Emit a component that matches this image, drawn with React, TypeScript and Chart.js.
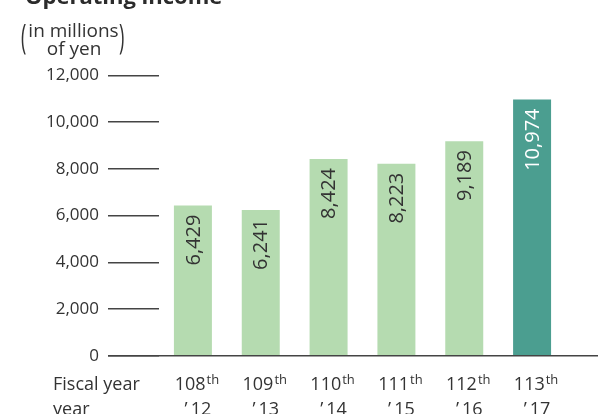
import React, { useEffect, useRef } from "react";
import { Chart, registerables } from "chart.js";

Chart.register(...registerables);

const titleText = "Operating income";
const unitLines = ["in millions", "of yen"];
const axisCaption = ["Fiscal year", "year"];
const fiscalNumbers = ["108", "109", "110", "111", "112", "113"];
const ordinalSuffixes = ["th", "th", "th", "th", "th", "th"];
const calendarYears = ["\u2019\u200912", "\u2019\u200913", "\u2019\u200914", "\u2019\u200915", "\u2019\u200916", "\u2019\u200917"];
const operatingIncome = [6429, 6241, 8424, 8223, 9189, 10974];
const barColors = ["#b5dbb0", "#b5dbb0", "#b5dbb0", "#b5dbb0", "#b5dbb0", "#4b9e90"];
const valueLabelColors = ["#333333", "#333333", "#333333", "#333333", "#333333", "#ffffff"];
const yMin = 0;
const yMax = 12000;
const yStep = 2000;

const FONT = "'Open Sans', 'Noto Sans', sans-serif";
const TEXT = "#333333";
const LINE = "#444444";
const TICK_LEN = 51;

const fmt = (v: number) => v.toLocaleString("en-US");

const overlayPlugin = {
  id: "overlay",
  afterDraw(chart: any) {
    const ctx: CanvasRenderingContext2D = chart.ctx;
    const area = chart.chartArea;
    const xs = chart.scales.x;
    const ys = chart.scales.y;
    ctx.save();

    // title (cut off at top)
    ctx.fillStyle = "#2b2b2b";
    ctx.font = `bold 22px ${FONT}`;
    ctx.textAlign = "left";
    ctx.textBaseline = "alphabetic";
    ctx.fillText(titleText, 25, 4);

    // unit label
    ctx.fillStyle = TEXT;
    ctx.font = `19px ${FONT}`;
    ctx.textAlign = "center";
    ctx.fillText(unitLines[0], 73.5, 37);
    ctx.fillText(unitLines[1], 74, 55);
    ctx.font = `20px ${FONT}`;
    ctx.textAlign = "left";
    ctx.save();
    ctx.translate(21, 49);
    ctx.scale(0.9, 1.7);
    ctx.fillText("(", 0, 0);
    ctx.restore();
    ctx.save();
    ctx.translate(119, 49);
    ctx.scale(0.9, 1.7);
    ctx.fillText(")", 0, 0);
    ctx.restore();

    // zero baseline
    const y0 = ys.getPixelForValue(0);
    ctx.strokeStyle = LINE;
    ctx.lineWidth = 1.5;
    ctx.beginPath();
    ctx.moveTo(area.left - TICK_LEN, y0);
    ctx.lineTo(chart.width, y0);
    ctx.stroke();

    // value labels inside bars
    const meta = chart.getDatasetMeta(0);
    meta.data.forEach((bar: any, i: number) => {
      ctx.save();
      ctx.translate(bar.x, bar.y + 9);
      ctx.rotate(-Math.PI / 2);
      ctx.font = `20px ${FONT}`;
      ctx.fillStyle = valueLabelColors[i];
      ctx.textAlign = "right";
      ctx.textBaseline = "middle";
      ctx.fillText(fmt(operatingIncome[i]), 0, 1);
      ctx.restore();
    });

    // category labels
    ctx.fillStyle = TEXT;
    ctx.textBaseline = "alphabetic";
    ctx.textAlign = "left";
    ctx.font = `18px ${FONT}`;
    ctx.fillText(axisCaption[0], 53, 390);
    ctx.fillText(axisCaption[1], 53, 415);
    fiscalNumbers.forEach((num, i) => {
      const cx = xs.getPixelForValue(i) + 4;
      ctx.font = `18px ${FONT}`;
      const w1 = ctx.measureText(num).width;
      ctx.font = `13px ${FONT}`;
      const w2 = ctx.measureText(ordinalSuffixes[i]).width;
      const start = cx - (w1 + 1 + w2) / 2;
      ctx.font = `18px ${FONT}`;
      ctx.textAlign = "left";
      ctx.fillText(num, start, 390);
      ctx.font = `13px ${FONT}`;
      ctx.fillText(ordinalSuffixes[i], start + w1 + 1, 384);
      ctx.font = `18px ${FONT}`;
      ctx.textAlign = "center";
      ctx.fillText(calendarYears[i], cx + 1, 415);
      ctx.textAlign = "left";
    });

    ctx.restore();
  },
};

export default function App() {
  const ref = useRef<HTMLCanvasElement | null>(null);

  useEffect(() => {
    if (!ref.current) return;
    const chart = new Chart(ref.current, {
      type: "bar",
      data: {
        labels: fiscalNumbers.map((n, i) => `${n}${ordinalSuffixes[i]} ${calendarYears[i]}`),
        datasets: [
          {
            data: operatingIncome,
            backgroundColor: barColors,
            borderWidth: 0,
            barPercentage: 0.56,
            categoryPercentage: 1,
          },
        ],
      },
      options: {
        responsive: false,
        animation: false,
        devicePixelRatio: 1,
        layout: { padding: { top: 75.5, right: 32, left: 0, bottom: 0 } },
        plugins: {
          legend: { display: false },
          tooltip: { enabled: false },
          title: { display: false },
        },
        scales: {
          x: {
            ticks: { display: false },
            grid: { display: false },
            border: { display: false },
            afterFit: (s: any) => {
              s.height = 414 - 355.7;
            },
          },
          y: {
            min: yMin,
            max: yMax,
            ticks: {
              stepSize: yStep,
              padding: 9,
              color: TEXT,
              font: { family: FONT, size: 17 },
              callback: (v: any) => fmt(Number(v)),
            },
            grid: {
              drawOnChartArea: false,
              drawTicks: true,
              tickLength: TICK_LEN,
              color: LINE,
              lineWidth: 1.5,
            },
            border: { display: false },
            afterFit: (s: any) => {
              s.width = 159;
            },
          },
        },
      },
      plugins: [overlayPlugin],
    });
    return () => chart.destroy();
  }, []);

  return (
    <div style={{ position: "absolute", left: 0, top: 0, width: 598, height: 414, background: "#fff" }}>
      <canvas ref={ref} width={598} height={414} style={{ width: 598, height: 414, display: "block" }} />
    </div>
  );
}
